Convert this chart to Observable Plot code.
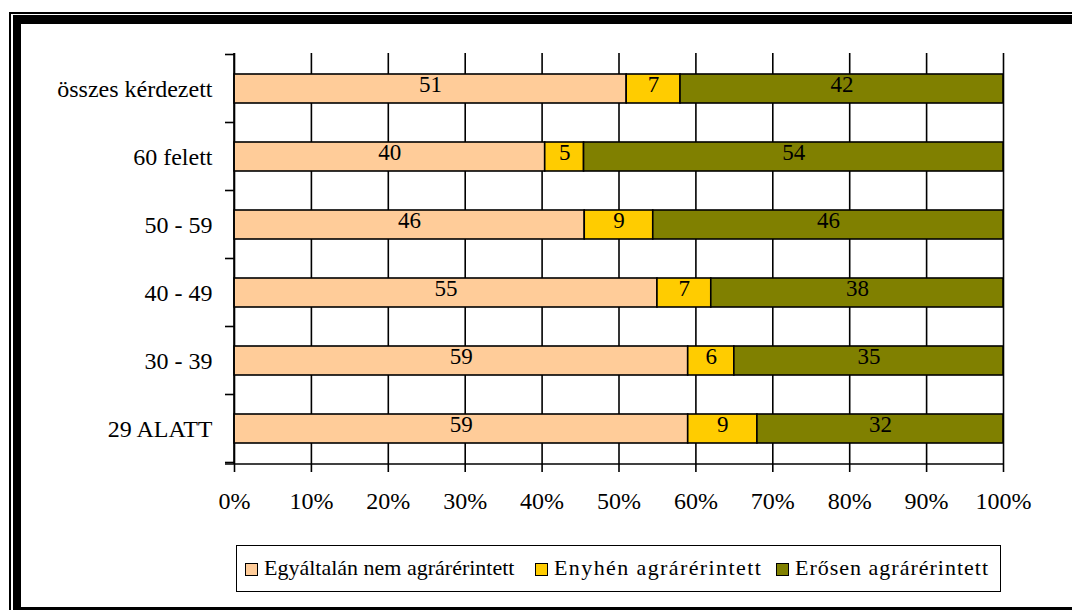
<!DOCTYPE html>
<html>
<head>
<meta charset="utf-8">
<script src="https://cdn.jsdelivr.net/npm/d3@7"></script>
<script src="https://cdn.jsdelivr.net/npm/@observablehq/plot@0.6"></script>
<style>
  html, body { margin: 0; padding: 0; background: #fff; overflow: hidden; }
  #page { position: relative; width: 1072px; height: 610px; overflow: hidden; font-family: "Liberation Serif", "Times New Roman", serif; }
  #frameThin { position: absolute; left: 9px; top: 12px; width: 2000px; height: 2000px; border-left: 2px solid #000; border-top: 2px solid #000; }
  #frameThick { position: absolute; left: 13px; top: 15px; width: 2000px; height: 583px; border-left: 8px solid #000; border-top: 9px solid #000; border-bottom: 9px solid #000; }
  #chart { position: absolute; left: 0; top: 0; }
  #legend { position: absolute; left: 236px; top: 545px; width: 765px; height: 47px; box-sizing: border-box; border: 1.5px solid #000; background: #fff; }
  .item { position: absolute; top: 0; height: 44px; display: flex; align-items: center; font-size: 22px; color: #000; white-space: nowrap; }
  .sw { width: 13px; height: 13px; border: 1.3px solid #000; margin-right: 6px; margin-top: 2px; box-sizing: border-box; flex: none; }
</style>
</head>
<body>
<div id="page">
  <div id="frameThin"></div>
  <div id="frameThick"></div>
  <div id="chart"></div>
  <div id="legend"></div>
</div>
<script>
const categories = ["összes kérdezett", "60 felett", "50 - 59", "40 - 49", "30 - 39", "29 ALATT"];
const series = ["Egyáltalán nem agrárérintett", "Enyhén agrárérintett", "Erősen agrárérintett"];
const nemValues = [51, 40, 46, 55, 59, 59];
const enyhenValues = [7, 5, 9, 7, 6, 9];
const erosenValues = [42, 54, 46, 38, 35, 32];
const colors = ["#FFCC99", "#FFCC00", "#808000"];
const xTicks = [0, 0.1, 0.2, 0.3, 0.4, 0.5, 0.6, 0.7, 0.8, 0.9, 1];

const seriesValues = [nemValues, enyhenValues, erosenValues];
const data = categories.flatMap((cat, i) =>
  series.map((s, j) => ({cat, series: s, value: seriesValues[j][i]}))
);

const axisFrame = (index, scales, values, dimensions) => {
  const {x, y} = scales;
  const step = y(categories[1]) - y(categories[0]);
  const bw = typeof y.bandwidth === "function" ? y.bandwidth() : step * 0.42;
  const x0 = x(0), x1 = x(1);
  const top = dimensions.marginTop;
  const bottom = dimensions.height - dimensions.marginBottom;
  const g = d3.create("svg:g").attr("stroke", "#000").attr("stroke-width", 1.6);
  g.append("line").attr("x1", x0).attr("x2", x0).attr("y1", top).attr("y2", bottom);
  g.append("line").attr("x1", x0 - 9).attr("x2", x1).attr("y1", bottom).attr("y2", bottom);
  const first = y(categories[0]) - (step - bw) / 2;
  for (let k = 0; k <= categories.length; k++) {
    const yb = first + k * step;
    g.append("line").attr("x1", x0 - 9).attr("x2", x0).attr("y1", yb).attr("y2", yb);
  }
  return g.node();
};

const chart = Plot.plot({
  width: 1072,
  height: 540,
  marginLeft: 234,
  marginRight: 69,
  marginTop: 53,
  marginBottom: 76,
  style: {fontFamily: "'Liberation Serif', 'Times New Roman', serif", fontSize: "24px", background: "transparent", color: "#000"},
  x: {domain: [0, 1]},
  y: {domain: categories, paddingInner: 0.58, paddingOuter: 0.29},
  color: {domain: series, range: colors},
  marks: [
    Plot.gridX(xTicks, {stroke: "#000", strokeOpacity: 1, strokeWidth: 1.6}),
    Plot.barX(data, Plot.stackX({offset: "normalize", x: "value", y: "cat", fill: "series", stroke: "#000", strokeWidth: 1.6})),
    Plot.text(data, Plot.stackX({offset: "normalize", x: "value", y: "cat", z: "series", text: "value", fill: "#000", fontSize: 23, dy: -4})),
    axisFrame,
    Plot.axisX(xTicks, {tickFormat: d3.format(".0%"), tickSize: 8, tickPadding: 19, strokeWidth: 1.6, label: null, fontSize: 24}),
    Plot.axisY({tickSize: 0, tickPadding: 22, label: null, fontSize: 24})
  ]
});
document.getElementById("chart").appendChild(chart);

const legend = document.getElementById("legend");
const itemLefts = [8, 298, 539];
const itemSpacing = ["0px", "1.4px", "1px"];
series.forEach((s, i) => {
  const item = document.createElement("div");
  item.className = "item";
  item.style.left = itemLefts[i] + "px";
  const sw = document.createElement("div");
  sw.className = "sw";
  sw.style.background = colors[i];
  const t = document.createElement("span");
  t.textContent = s;
  t.style.letterSpacing = itemSpacing[i];
  item.appendChild(sw);
  item.appendChild(t);
  legend.appendChild(item);
});
</script>
</body>
</html>
